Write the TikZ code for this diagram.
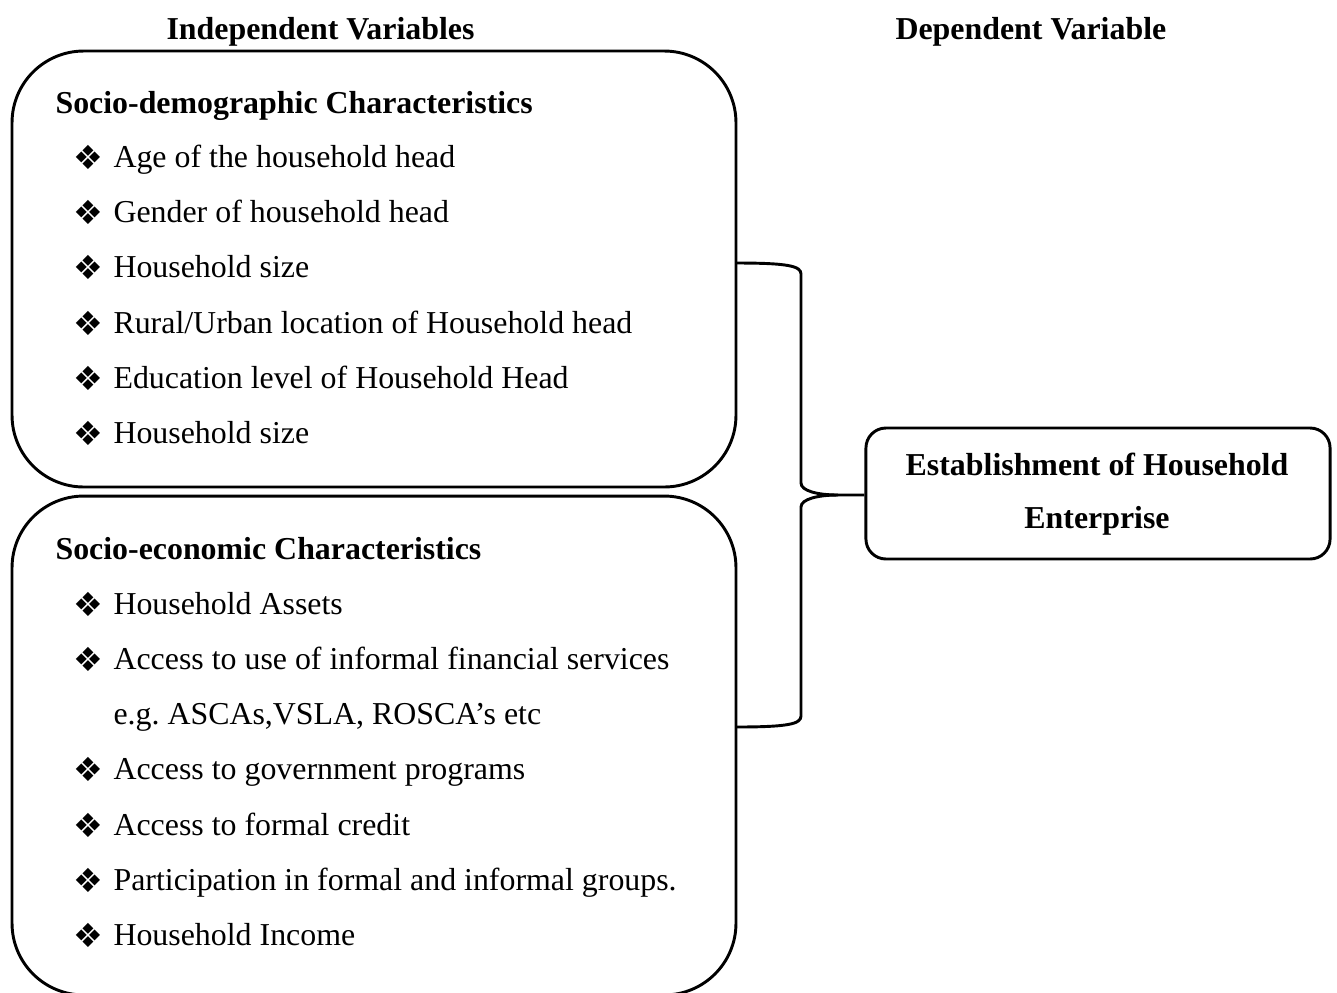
\documentclass[tikz,border=0pt]{standalone}
\usepackage{fontspec}
\setmainfont{Liberation Serif}
\newfontfamily\dv{DejaVu Sans}
\begin{document}
\begin{tikzpicture}[x=0.3764pt,y=-0.3764pt,
  line/.style={line width=1.1pt},
  bigbox/.style={draw,line width=1.1pt,rounded corners=27pt,minimum width=272.5pt,inner sep=0pt},
  txt/.style={anchor=base west,inner sep=0pt,font=\fontsize{12}{14}\selectfont\frenchspacing},
  hd/.style={anchor=base west,inner sep=0pt,font=\fontsize{12}{14}\selectfont\bfseries},
  bul/.style={anchor=center,inner sep=0pt,font=\fontsize{12.5}{15}\selectfont\dv}]
\useasboundingbox (0,0) rectangle (1337,992);
% boxes
\node[bigbox,minimum height=164.1pt] (top) at (374,269) {};
\node[bigbox,minimum height=187.8pt] (bot) at (374,745.5) {};
\node[draw,line width=1.1pt,rounded corners=7.5pt,minimum width=174.7pt,minimum height=49.3pt,inner sep=0pt] (er) at (1098,493.5) {};
% titles
\node[hd] (t1) at (166,39) {Independent Variables};
\node[hd] (t2) at (895,39) {Dependent Variable};
% right text
\node[anchor=base,inner sep=0pt,font=\fontsize{12}{14}\selectfont\bfseries] (e1) at (1097,475) {Establishment of Household};
\node[anchor=base,inner sep=0pt,font=\fontsize{12}{14}\selectfont\bfseries] (e2) at (1097,528) {Enterprise};
% top box content
\node[hd] (h1) at (55,113) {Socio-demographic Characteristics};
\foreach \y/\t [count=\i] in {167/Age of the household head,222/Gender of household head,277/Household size,333/Rural\slash Urban location of Household head,388/Education level of Household Head,443/Household size}{
  \node[bul] (ba\i) at (88,\y-10) {❖};
  \node[txt] (ta\i) at (113,\y) {\t};
}
% bottom box content
\node[hd] (h2) at (55,559) {Socio-economic Characteristics};
\foreach \y/\t [count=\i] in {614/Household Assets,669/Access to use of informal financial services,779/Access to government programs,835/Access to formal credit,890/Participation in formal and informal groups.,945/Household Income}{
  \node[bul] (bb\i) at (88,\y-10) {❖};
  \node[txt] (tb\i) at (113,\y) {\t};
}
\node[txt] (tc) at (113,724) {e.g. ASCAs,VSLA, ROSCA’s etc};
% brace
\coordinate (bt) at (736,263);
\coordinate (bb) at (736,727);
\coordinate (tip) at (838,495);
\draw[line] (bt) .. controls (788,263) and (801,266) .. (801,274) -- (801,483)
  .. controls (801,491) and (818,495) .. (tip) -- (er.west |- tip);
\draw[line] (tip) .. controls (818,495) and (801,499) .. (801,507) -- (801,716)
  .. controls (801,724) and (788,727) .. (bb);
\end{tikzpicture}
\end{document}
